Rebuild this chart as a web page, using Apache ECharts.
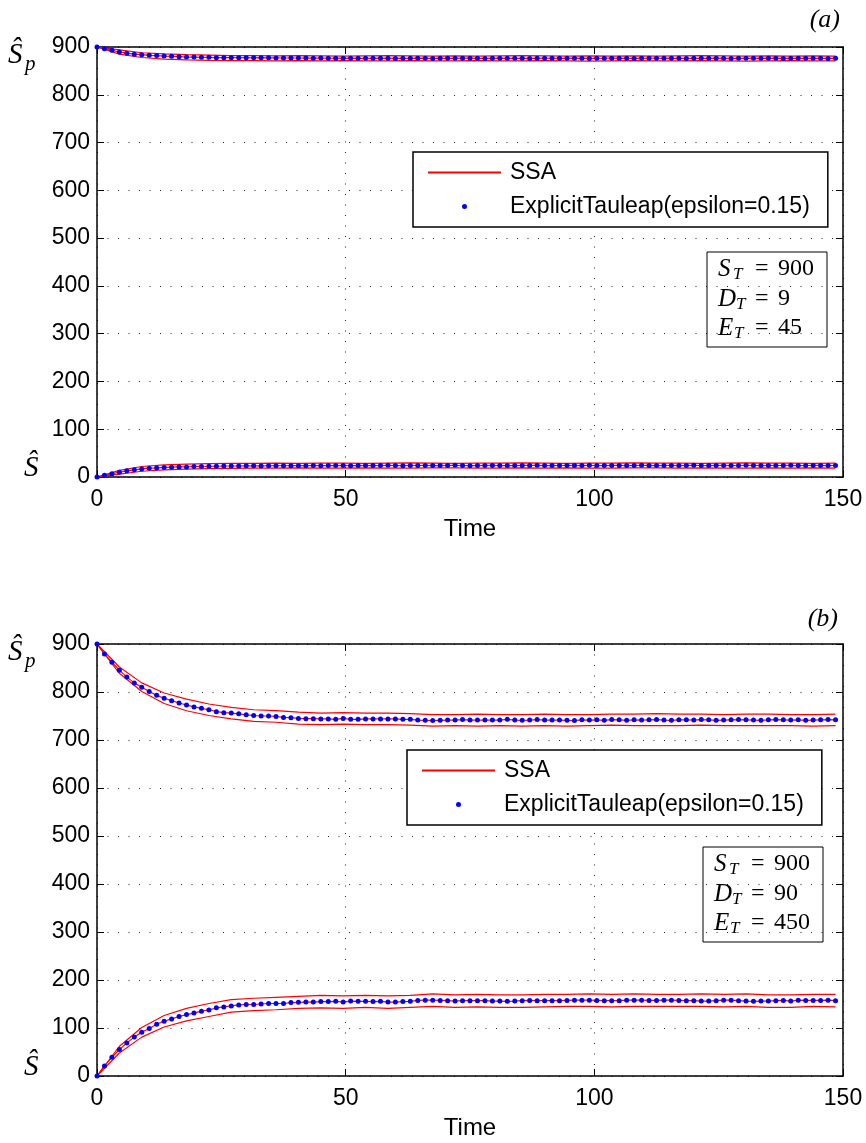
<!DOCTYPE html>
<html><head><meta charset="utf-8">
<script src="https://cdn.jsdelivr.net/npm/echarts@6/dist/echarts.min.js"></script>
<style>html,body{margin:0;padding:0;background:#fff}#c{width:866px;height:1143px}</style>
</head><body><div id="c"></div>
<script>
// ---- data ----
const xTicks = [0, 50, 100, 150];
const yTicks = [0, 100, 200, 300, 400, 500, 600, 700, 800, 900];
const tauStep = 1.5;   // time step of the tau-leap markers
const bandStep = 4.5;  // time step of the SSA band samples

// panel (a)
const aSpMean = [900,896.5,893,889.5,887,885,884,882.5,882,881,
880.5,879.7,879,879,878.3,878.3,877.6,877.6,877.6,877.5,
877.6,877.4,877.6,877.3,877.2,877,877,877,876.8,876.6,
876.9,876.5,876.7,876.4,876.6,876.2,876.5,876.3,876.6,876.4,
876.1,876.5,876.3,876.6,876.2,876.0,876.4,876.5,876.2,876.6,
876.7,876.3,876.1,876.4,876.6,876.2,876.5,876.3,876.0,876.4,
876.6,876.5,876.2,876.3,876.7,876.4,876.1,876.3,876.5,876.6,
876.2,876.4,876.0,876.3,876.5,876.7,876.2,876.4,876.3,876.1,
876.5,876.4,876.2,876.6,876.3,876.0,876.4,876.5,876.2,876.3,
876.6,876.4,876.1,876.3,876.5,876.2,876.4,876.3,876.1,876.4];
const aSMean = [0,3.5,7,10,13,15,17,18.5,19,20,
20.5,21,21,22,22,22.5,22.5,23,23,23,
23.3,23.4,23.2,23.5,23.6,23.5,23.7,23.8,23.8,24.0,
23.7,24.1,23.9,24.2,23.8,24.0,24.3,23.9,24.1,24.4,
24.0,23.8,24.2,24.1,24.3,23.9,24.0,24.2,24.4,24.1,
23.8,24.0,24.3,24.2,23.9,24.1,24.0,24.3,24.2,24.4,
24.0,23.9,24.1,24.3,24.2,24.0,24.4,24.1,23.9,24.2,
24.3,24.0,24.1,24.4,24.2,23.9,24.1,24.3,24.0,24.2,
24.4,24.1,24.0,24.3,24.2,23.9,24.1,24.4,24.2,24.0,
24.3,24.1,24.2,24.4,24.0,24.1,24.3,24.2,24.0,24.2];
const aSpUpper = [900,894,888,885.5,884,883,882,882,881.5,882,881.5,881,881.5,882,881.5,881,881.5,881,881.5,882,881.5,881,881.5,881,881.5,881,881.5,882,881.5,881,881.5,881,881.5,881];
const aSpLower = [900,885,878,874.5,873,872,871.5,871.5,871,871.5,871,871.5,871,871,871.5,871,871,871.5,871,871,871.5,871,870.5,871,871.5,871,871,871.5,871,870.5,871,871.5,871,871];
const aSUpper = [0,14,22,25.5,27,28,28.5,28.5,29,28.5,29,29,28.5,29,29.5,29,28.5,29,29,29.5,29,28.5,29,29,29.5,29,29,28.5,29,29.5,29,29,28.5,29];
const aSLower = [0,6,12,15,16.5,17.5,18,18.5,18.5,19,18.5,18.5,19,18.5,18.5,19,19,18.5,18.5,19,18.5,19,18.5,18.5,19,19,18.5,19,18.5,18.5,19,18.5,19,18.5];

// panel (b)
const bSpMean = [900,879,862,845.5,831,819,810,801,793,787,
782,777,773,769,766,763,759,757,756,754.5,
752.5,751,750,750,749,747,746.5,745,744.5,744.5,
744,744,743,745,743,743,744,744,744,744,
744,743,743,741.5,741,740.5,741,741.5,741.5,742.5,
741.5,741.5,741.5,741.5,741.5,743,741.5,741,741.5,742.5,
741.5,741.5,741.5,741,740.5,742,741.5,742,741,742.5,
742,741,742,741.5,742,742.5,741.5,741,742,742,
741.5,742.5,742,741,741.5,742,742.5,742,741.5,741,
742,742.5,742,741.5,742,741,741.5,742,742.5,742];
const bSMean = [0,21,39,55,69,81,91,99,108,114,
119,124,128,131,135,137.5,142,144,146,148,
149,149,150,151,151,151,153,153.5,154,154,
155,155,155.5,154,156,155.5,155.5,155,155.5,154,
154,155,155.5,157.5,158,158,157.5,157,156,157,
157,157,157,156,156,155.5,156,157,157.5,157,
157,157,157,157.5,158,158,158,157.5,157,157,
157,158,158,158,157.5,157.5,158,158,157.5,157,
157,156,156,157,158,158,157,156,155.5,156,
156,157,157.5,156,158,157.5,157.5,157.5,158,157];
const bSpUpper = [900,852,819,798,785,775,768,763,761,758,756,757,756,756,755,753,753,754,753,753,754,753,753,754,754,755,754,754,753,754,754,753,753,754];
const bSpLower = [900,839,801,776,761,751,744,739,737,733,732,733,732,732,731,729,730,729,730,729,730,729,730,731,730,730,730,731,730,730,730,730,729,730];
const bSUpper = [0,62,101,126,141,151,159,162,164,166,168,167,168,167,168,171,169,170,169,169,170,170,171,170,171,170,170,171,170,171,169,169,170,170];
const bSLower = [0,48,81,102,115,124,133,136,138,141,142,141,143,141,143,145,143,144,143,143,144,145,145,144,145,145,145,145,144,145,143,143,145,144];

const SSA = 'SSA';
const TAU = 'ExplicitTauleap(epsilon=0.15)';

// ---- build ----
const pairs = (arr, step) => arr.map((v, i) => [+(i * step).toFixed(2), v]);
const SANS = '"Liberation Sans", Arial, Helvetica, sans-serif';
const SERIF = '"Liberation Serif", "Times New Roman", serif';

function lineS(data, g) {
  return { type: 'line', name: SSA, xAxisIndex: g * 2, yAxisIndex: g * 2, data: data,
    symbol: 'none', showSymbol: false, smooth: false, animation: false,
    lineStyle: { color: '#ff0000', width: 1.2 }, itemStyle: { color: '#ff0000' }, z: 2 };
}
function dotS(data, g) {
  return { type: 'scatter', name: TAU, xAxisIndex: g * 2, yAxisIndex: g * 2, data: data,
    symbol: 'circle', symbolSize: 5, animation: false,
    itemStyle: { color: '#0000ff', opacity: 1 }, z: 3 };
}

const series = [];
[[aSpMean, aSMean, aSpUpper, aSpLower, aSUpper, aSLower],
 [bSpMean, bSMean, bSpUpper, bSpLower, bSUpper, bSLower]].forEach((p, g) => {
  series.push(lineS(pairs(p[2], bandStep), g));
  series.push(lineS(pairs(p[3], bandStep), g));
  series.push(lineS(pairs(p[4], bandStep), g));
  series.push(lineS(pairs(p[5], bandStep), g));
  series.push(lineS(pairs(p[0], tauStep), g));
  series.push(lineS(pairs(p[1], tauStep), g));
  series.push(dotS(pairs(p[0], tauStep), g));
  series.push(dotS(pairs(p[1], tauStep), g));
});

const axLine = { show: true, onZero: false, lineStyle: { color: '#000', width: 1.5 } };
const axTick = { show: true, inside: true, length: 7, lineStyle: { color: '#000', width: 1 } };
const dotted = { show: true, lineStyle: { color: '#222', width: 1, type: [1, 9.5] } };

function xAxes(g) {
  return [
    { gridIndex: g, type: 'value', min: xTicks[0], max: xTicks[xTicks.length - 1], interval: xTicks[1] - xTicks[0],
      position: 'bottom', axisLine: axLine, axisTick: axTick, splitLine: dotted,
      axisLabel: { fontSize: 23, color: '#000', fontFamily: SANS, margin: 11 },
      name: 'Time', nameLocation: 'middle', nameGap: 40,
      nameTextStyle: { fontSize: 24, color: '#000', fontFamily: SANS } },
    { gridIndex: g, type: 'value', min: xTicks[0], max: xTicks[xTicks.length - 1], interval: xTicks[1] - xTicks[0],
      position: 'top', axisLine: axLine, axisTick: axTick, splitLine: { show: false }, axisLabel: { show: false } }
  ];
}
function yAxes(g) {
  return [
    { gridIndex: g, type: 'value', min: yTicks[0], max: yTicks[yTicks.length - 1], interval: yTicks[1] - yTicks[0],
      position: 'left', axisLine: axLine, axisTick: axTick, splitLine: dotted,
      axisLabel: { fontSize: 23, color: '#000', fontFamily: SANS, margin: 7 } },
    { gridIndex: g, type: 'value', min: yTicks[0], max: yTicks[yTicks.length - 1], interval: yTicks[1] - yTicks[0],
      position: 'right', axisLine: axLine, axisTick: axTick, splitLine: { show: false }, axisLabel: { show: false } }
  ];
}

function legend(left, top) {
  return { orient: 'vertical', left: left, top: top, padding: [9, 18, 9, 14], itemGap: 11,
    itemWidth: 73, itemHeight: 5, borderColor: '#000', borderWidth: 1.5, backgroundColor: '#fff',
    borderRadius: 0, selectedMode: false,
    textStyle: { fontSize: 23, color: '#000', fontFamily: SANS, padding: [0, 0, 0, 4] },
    data: [{ name: SSA, itemStyle: { color: 'rgba(0,0,0,0)', borderWidth: 0, opacity: 0 } }, { name: TAU }] };
}

function txt(x, y, s, size, italic, align) {
  const font = (italic ? 'italic ' : '') + size + 'px ' + SERIF;
  return { type: 'text', x: x, y: y, z: 100,
    style: { text: s, font: font, fill: '#000', textAlign: align || 'left', align: align || 'left',
      textVerticalAlign: 'middle', verticalAlign: 'middle' } };
}
function paramBox(x, y, vals) {
  const els = [{ type: 'rect', z: 99, shape: { x: x, y: y, width: 120, height: 95 },
    style: { fill: 'none', stroke: '#000', lineWidth: 1 } }];
  const letters = ['S', 'D', 'E'];
  const subX = [26, 29, 27];
  const dy = [17, 47, 76];
  letters.forEach((L, i) => {
    els.push(txt(x + 11, y + dy[i], L, 25, true));
    els.push(txt(x + subX[i], y + dy[i] + 6, 'T', 17, true));
    els.push(txt(x + 48, y + dy[i], '=', 24, false));
    els.push(txt(x + 71, y + dy[i], vals[i], 24, false));
  });
  return els;
}

const graphic = [].concat(
  paramBox(707, 252, ['900', '9', '45']),
  paramBox(703, 847, ['900', '90', '450']),
  [
    txt(840, 20, '(a)', 26, true, 'right'),
    txt(838, 619, '(b)', 26, true, 'right'),
    txt(8, 55, 'Ŝ', 29, true), txt(25, 64, 'p', 21, true),
    txt(24, 468, 'Ŝ', 29, true),
    txt(8, 652, 'Ŝ', 29, true), txt(25, 661, 'p', 21, true),
    txt(24, 1067, 'Ŝ', 29, true)
  ]
);

const chart = echarts.init(document.getElementById('c'), null, { renderer: 'canvas' });
chart.setOption({
  animation: false,
  backgroundColor: '#fff',
  grid: [
    { left: 97, top: 47, width: 746, height: 430, containLabel: false },
    { left: 97, top: 644, width: 746, height: 432, containLabel: false }
  ],
  xAxis: [].concat(xAxes(0), xAxes(1)),
  yAxis: [].concat(yAxes(0), yAxes(1)),
  legend: [legend(413, 152), legend(407, 750)],
  series: series,
  graphic: graphic
});
</script></body></html>
